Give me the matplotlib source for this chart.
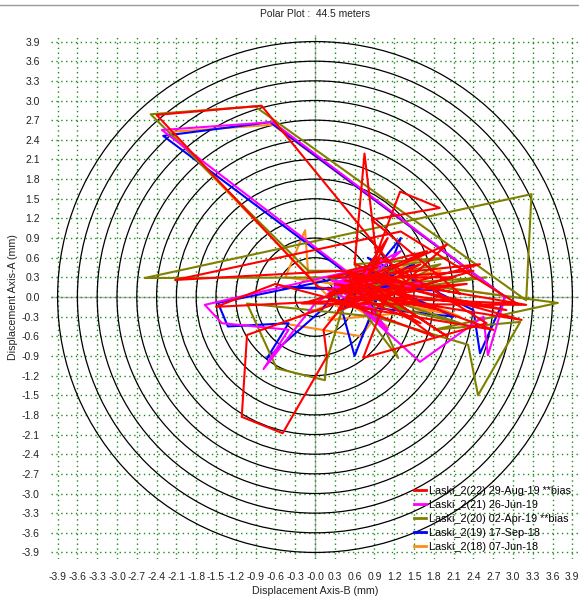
import matplotlib
matplotlib.use("Agg")
import matplotlib.pyplot as plt
from matplotlib.patches import Circle
from matplotlib.lines import Line2D

plt.rcParams['font.family'] = ['Liberation Sans', 'DejaVu Sans']

# ---- data ----
ticks = [-3.9, -3.6, -3.3, -3.0, -2.7, -2.4, -2.1, -1.8, -1.5, -1.2, -0.9, -0.6, -0.3,
         0.0, 0.3, 0.6, 0.9, 1.2, 1.5, 1.8, 2.1, 2.4, 2.7, 3.0, 3.3, 3.6, 3.9]
x_labels = ['-3.9', '-3.6', '-3.3', '-3.0', '-2.7', '-2.4', '-2.1', '-1.8', '-1.5', '-1.2',
            '-0.9', '-0.6', '-0.3', '-0.0', '0.3', '0.6', '0.9', '1.2', '1.5', '1.8', '2.1',
            '2.4', '2.7', '3.0', '3.3', '3.6', '3.9']
y_labels = ['-3.9', '-3.6', '-3.3', '-3.0', '-2.7', '-2.4', '-2.1', '-1.8', '-1.5', '-1.2',
            '-0.9', '-0.6', '-0.3', '0.0', '0.3', '0.6', '0.9', '1.2', '1.5', '1.8', '2.1',
            '2.4', '2.7', '3.0', '3.3', '3.6', '3.9']
rings = [0.3, 0.6, 0.9, 1.2, 1.5, 1.8, 2.1, 2.4, 2.7, 3.0, 3.3, 3.6, 3.9]

# Laski_2(18) 07-Jun-18
s18_x = [0.3, -0.45, -0.15, -0.1, 0.6, 1.4, 0.4, -2.2, -0.64, 2.85, 0.9, 1.8, 0.2, 1.6,
         0.5, -0.5, 0.7, 1.2, 2.2, 0.3, 1.9, 0.5, 1.1, 0.2]
s18_y = [0.2, 0.3, 1.02, 0.3, 0.1, 0.35, -0.2, 2.52, 2.63, 0.02, 0.3, -0.2, -0.35, 0.6,
         0.0, -0.4, -0.6, 0.1, -0.3, 0.1, 0.4, -0.1, -0.45, 0.15]

# Laski_2(19) 17-Sep-18
s19_x = [0.2, 0.9, -1.47, -1.32, -0.4, -0.73, 0.1, 0.5, -2.3, -0.68, 2.88, 2.5, 2.4, 0.8,
         1.2, 0.4, 1.3, 0.6, 0.3, 1.9, -0.5, 0.7, 1.5, 0.3, 2.1, 0.6, 1.0, 0.4]
s19_y = [0.0, 0.4, -0.09, -0.45, -0.4, -0.94, -0.2, 0.35, 2.46, 2.67, 0.0, -0.86, -0.2, 0.6,
         0.3, -0.2, 0.9, -0.9, 0.2, 0.1, 0.15, 0.1, 0.5, -0.1, -0.3, 0.4, -0.4, 0.1]

# Laski_2(20) 02-Apr-19 **bias
s20_x = [0.3, 1.2, -0.1, -2.49, -0.91, 3.2, 3.28, -2.58, 1.0, 1.5, 3.68, 1.8, 3.11, 2.47,
         2.32, 0.9, -1.03, -0.58, 0.15, 0.18, 0.5, 1.26, 0.6, 2.0, 0.2, 1.4, 0.4, 2.6, 0.5,
         2.2, 0.4, 1.9, 0.7]
s20_y = [0.0, 0.4, 0.4, 2.79, 2.91, -0.05, 1.57, 0.29, 0.3, 0.2, -0.09, -0.5, -0.38, -1.5,
         -0.73, -0.3, -0.1, -1.09, -1.27, -0.96, 0.1, -0.93, 0.5, 0.6, 0.3, -0.2, 0.15, 0.3,
         0.0, -0.4, 0.2, 0.5, -0.1]

# Laski_2(21) 26-Jun-19
s21_x = [0.4, 1.0, -1.67, -1.41, -0.4, -0.78, 0.0, 0.6, -2.32, -0.64, 2.88, 2.62, 2.55,
         1.59, 0.5, 1.3, 0.3, 1.1, 0.6, 0.8, 0.45, 1.7, 0.5, 0.2, 0.9, 0.4, 0.7, 0.3, 0.7,
         0.35, 0.65, 0.25, 0.8, 0.4]
s21_y = [0.1, 0.5, -0.12, -0.4, -0.5, -1.1, -0.1, 0.3, 2.55, 2.67, 0.0, -0.89, -0.3,
         -0.99, 0.0, 0.7, 0.2, -0.5, 0.15, 0.4, 0.05, 0.2, 0.25, 0.1, -0.2, 0.3, 0.1, 0.15,
         0.25, 0.05, 0.2, 0.25, 0.05, 0.15]

# Laski_2(22) 29-Aug-19 **bias
s22_x = [0.3, 1.6, 0.5, 2.1, 0.2, 0.95, 0.75, 0.6, 1.4, -0.81, -2.4, 0.05, 3.13, 0.8,
         1.29, 1.89, 0.86, 2.2, 0.4, -2.12, 1.3, 3.06, 0.6, -1.03, -1.11, -0.49, 0.18,
         0.13, 1.0, 2.6, 0.73, 1.2, -0.2, 3.2, 0.5, 1.8, 0.2, 2.0, 0.9, -0.6, -1.5, 1.5,
         0.45, 2.4, 0.35, 1.1, 0.7, 1.9, 0.3, 2.9, 0.6, 2.5, 0.3, 2.7, 0.8, 2.0, 0.5, 1.7,
         0.2, 2.3, 0.9, 1.6, 0.4]
s22_y = [0.1, 0.5, -0.1, 0.3, 0.3, 0.45, 2.19, 0.5, 0.2, 2.92, 2.78, 0.15, -0.35, 0.3,
         1.61, 1.36, 1.18, 0.05, 0.4, 0.26, 1.0, -0.1, 0.0, -0.58, -1.83, -2.08, -0.91,
         -0.5, 0.6, -0.4, -0.93, 0.3, -0.1, -0.12, 0.35, -0.6, 0.0, 0.8, -0.2, 0.2, -0.15,
         0.0, 0.25, 0.4, -0.2, 0.9, 0.05, -0.2, 0.2, -0.2, 0.3, 0.5, -0.1, -0.5, 0.2, -0.6,
         0.4, 0.7, 0.05, 0.2, 0.0, -0.4, 0.1]

series = [
    ('Laski_2(18) 07-Jun-18', s18_x, s18_y, '#ff8c1a'),
    ('Laski_2(19) 17-Sep-18', s19_x, s19_y, '#0000ff'),
    ('Laski_2(20) 02-Apr-19 **bias', s20_x, s20_y, '#808000'),
    ('Laski_2(21) 26-Jun-19', s21_x, s21_y, '#ff00ff'),
    ('Laski_2(22) 29-Aug-19 **bias', s22_x, s22_y, '#ff0000'),
]

fig = plt.figure(figsize=(5.79, 5.99), dpi=100)
ax = fig.add_axes([51 / 579, 40 / 599, 528 / 579, 524 / 599])
ax.set_xlim(-4.0, 4.0)
ax.set_ylim(-4.0, 4.0)
for sp in ax.spines.values():
    sp.set_visible(False)

# grid + zero lines + rings
ax.set_xticks(ticks)
ax.set_yticks(ticks)
ax.set_xticklabels(x_labels)
ax.set_yticklabels(y_labels)
ax.tick_params(length=0, labelsize=7.5, pad=9, labelcolor='#222222')
ax.tick_params(axis='y', pad=8)
ax.grid(True, color='#1a8a1a', linestyle=(0, (1, 2.5)), linewidth=1.0)
ax.axhline(0, color='#b4b4b4', lw=1, zorder=1)
ax.axvline(0, color='#b4b4b4', lw=1, zorder=1)
for r in rings:
    ax.add_patch(Circle((0, 0), r, fill=False, ec='black', lw=0.9, zorder=2))

for name, xs, ys, col in series:
    ax.plot(xs, ys, color=col, lw=1.5, zorder=3)

ax.set_xlabel('Displacement Axis-B (mm)', fontsize=7.7, labelpad=3, color='#222222')
ax.set_ylabel('Displacement Axis-A (mm)', fontsize=7.7, labelpad=3, color='#222222')
fig.text(315 / 579, 1 - 14 / 599, 'Polar Plot :  44.5 meters', fontsize=7.4,
         ha='center', va='center', color='#222222')
fig.add_artist(Line2D([0, 1], [1 - 5 / 599, 1 - 5 / 599], color='#9a9a9a', lw=1))

handles = [Line2D([], [], color=c, lw=2) for _, _, _, c in series][::-1]
labels = [n for n, _, _, _ in series][::-1]
ax.legend(handles, labels, loc='upper left', bbox_to_anchor=(414 / 579, 1 - 486 / 599),
          bbox_transform=fig.transFigure, frameon=False, fontsize=7.8, borderpad=0,
          borderaxespad=0, handlelength=1.1, handletextpad=0.3, labelspacing=0.36)

fig.savefig('out.png', dpi=100)
